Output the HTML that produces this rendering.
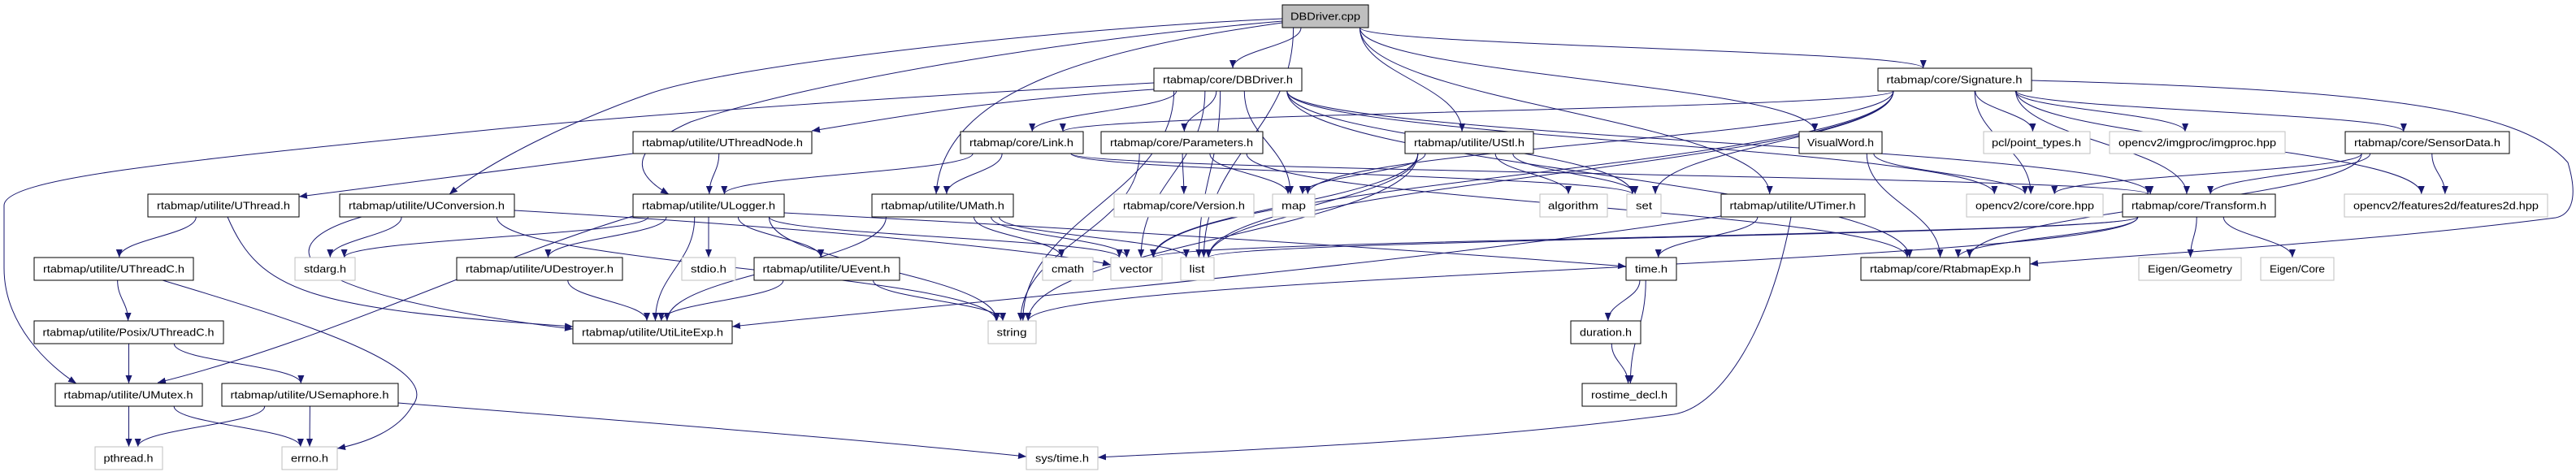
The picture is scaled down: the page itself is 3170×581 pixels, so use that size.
<!DOCTYPE html>
<html><head><meta charset="utf-8">
<style>
html,body{margin:0;padding:0;background:#fff;width:3170px;height:581px;overflow:hidden}
svg{display:block}
text{font-family:"Liberation Sans",sans-serif;font-size:12.5px;fill:#000}
</style></head>
<body>
<svg id="g" width="3170" height="581" xmlns="http://www.w3.org/2000/svg">
<defs><marker id="a" viewBox="0 0 10 10" refX="10" refY="5" markerWidth="10" markerHeight="10" markerUnits="userSpaceOnUse" orient="auto"><path d="M0,1 L10,5 L0,9 z" fill="#191970"/></marker></defs>
<g id="edges" fill="none" stroke="#191970" stroke-width="1"></g>
<g id="nodes">
<rect x="1578" y="6" width="106" height="28" fill="#bfbfbf" stroke="#000"/><text x="1631" y="24.5" text-anchor="middle" textLength="86" lengthAdjust="spacingAndGlyphs">DBDriver.cpp</text>
<rect x="1420" y="84" width="182" height="28" fill="#fff" stroke="#000"/><text x="1511" y="102.5" text-anchor="middle" textLength="160" lengthAdjust="spacingAndGlyphs">rtabmap/core/DBDriver.h</text>
<rect x="2311" y="84" width="189" height="28" fill="#fff" stroke="#000"/><text x="2405" y="102.5" text-anchor="middle" textLength="167" lengthAdjust="spacingAndGlyphs">rtabmap/core/Signature.h</text>

<rect x="779" y="162" width="220" height="27" fill="#fff" stroke="#000"/><text x="889" y="180" text-anchor="middle" textLength="198" lengthAdjust="spacingAndGlyphs">rtabmap/utilite/UThreadNode.h</text>
<rect x="1182" y="162" width="151" height="27" fill="#fff" stroke="#000"/><text x="1257" y="180" text-anchor="middle" textLength="128" lengthAdjust="spacingAndGlyphs">rtabmap/core/Link.h</text>
<rect x="1355" y="162" width="199" height="27" fill="#fff" stroke="#000"/><text x="1454" y="180" text-anchor="middle" textLength="176" lengthAdjust="spacingAndGlyphs">rtabmap/core/Parameters.h</text>
<rect x="1729" y="162" width="158" height="27" fill="#fff" stroke="#000"/><text x="1808" y="180" text-anchor="middle" textLength="136" lengthAdjust="spacingAndGlyphs">rtabmap/utilite/UStl.h</text>
<rect x="2214" y="162" width="102" height="27" fill="#fff" stroke="#000"/><text x="2265" y="180" text-anchor="middle" textLength="82" lengthAdjust="spacingAndGlyphs">VisualWord.h</text>
<rect x="2441" y="162" width="131" height="27" fill="#fff" stroke="#bfbfbf"/><text x="2506" y="180" text-anchor="middle" textLength="110" lengthAdjust="spacingAndGlyphs">pcl/point_types.h</text>
<rect x="2596" y="162" width="216" height="27" fill="#fff" stroke="#bfbfbf"/><text x="2704" y="180" text-anchor="middle" textLength="194" lengthAdjust="spacingAndGlyphs">opencv2/imgproc/imgproc.hpp</text>
<rect x="2886" y="162" width="202" height="27" fill="#fff" stroke="#000"/><text x="2987" y="180" text-anchor="middle" textLength="180" lengthAdjust="spacingAndGlyphs">rtabmap/core/SensorData.h</text>

<rect x="182" y="239" width="186" height="28" fill="#fff" stroke="#000"/><text x="275" y="257.5" text-anchor="middle" textLength="164" lengthAdjust="spacingAndGlyphs">rtabmap/utilite/UThread.h</text>
<rect x="418" y="239" width="215" height="28" fill="#fff" stroke="#000"/><text x="525" y="257.5" text-anchor="middle" textLength="192" lengthAdjust="spacingAndGlyphs">rtabmap/utilite/UConversion.h</text>
<rect x="779" y="239" width="186" height="28" fill="#fff" stroke="#000"/><text x="872" y="257.5" text-anchor="middle" textLength="164" lengthAdjust="spacingAndGlyphs">rtabmap/utilite/ULogger.h</text>
<rect x="1073" y="239" width="174" height="28" fill="#fff" stroke="#000"/><text x="1160" y="257.5" text-anchor="middle" textLength="152" lengthAdjust="spacingAndGlyphs">rtabmap/utilite/UMath.h</text>
<rect x="1371" y="239" width="172" height="28" fill="#fff" stroke="#bfbfbf"/><text x="1457" y="257.5" text-anchor="middle" textLength="150" lengthAdjust="spacingAndGlyphs">rtabmap/core/Version.h</text>
<rect x="1566" y="239" width="52" height="28" fill="#fff" stroke="#bfbfbf"/><text x="1592" y="257.5" text-anchor="middle" textLength="30" lengthAdjust="spacingAndGlyphs">map</text>
<rect x="1895" y="239" width="83" height="28" fill="#fff" stroke="#bfbfbf"/><text x="1936" y="257.5" text-anchor="middle" textLength="62" lengthAdjust="spacingAndGlyphs">algorithm</text>
<rect x="2002" y="239" width="42" height="28" fill="#fff" stroke="#bfbfbf"/><text x="2023" y="257.5" text-anchor="middle" textLength="20" lengthAdjust="spacingAndGlyphs">set</text>
<rect x="2118" y="239" width="177" height="28" fill="#fff" stroke="#000"/><text x="2206" y="257.5" text-anchor="middle" textLength="155" lengthAdjust="spacingAndGlyphs">rtabmap/utilite/UTimer.h</text>
<rect x="2420" y="239" width="168" height="28" fill="#fff" stroke="#bfbfbf"/><text x="2504" y="257.5" text-anchor="middle" textLength="146" lengthAdjust="spacingAndGlyphs">opencv2/core/core.hpp</text>
<rect x="2612" y="239" width="188" height="28" fill="#fff" stroke="#000"/><text x="2706" y="257.5" text-anchor="middle" textLength="166" lengthAdjust="spacingAndGlyphs">rtabmap/core/Transform.h</text>
<rect x="2885" y="239" width="250" height="28" fill="#fff" stroke="#bfbfbf"/><text x="3010" y="257.5" text-anchor="middle" textLength="228" lengthAdjust="spacingAndGlyphs">opencv2/features2d/features2d.hpp</text>

<rect x="42" y="317" width="196" height="28" fill="#fff" stroke="#000"/><text x="140" y="335.5" text-anchor="middle" textLength="174" lengthAdjust="spacingAndGlyphs">rtabmap/utilite/UThreadC.h</text>
<rect x="363" y="317" width="74" height="28" fill="#fff" stroke="#bfbfbf"/><text x="400" y="335.5" text-anchor="middle" textLength="52" lengthAdjust="spacingAndGlyphs">stdarg.h</text>
<rect x="562" y="317" width="204" height="28" fill="#fff" stroke="#000"/><text x="664" y="335.5" text-anchor="middle" textLength="182" lengthAdjust="spacingAndGlyphs">rtabmap/utilite/UDestroyer.h</text>
<rect x="839" y="317" width="66" height="28" fill="#fff" stroke="#bfbfbf"/><text x="872" y="335.5" text-anchor="middle" textLength="44" lengthAdjust="spacingAndGlyphs">stdio.h</text>
<rect x="928" y="317" width="179" height="28" fill="#fff" stroke="#000"/><text x="1017" y="335.5" text-anchor="middle" textLength="157" lengthAdjust="spacingAndGlyphs">rtabmap/utilite/UEvent.h</text>
<rect x="1283" y="317" width="62" height="28" fill="#fff" stroke="#bfbfbf"/><text x="1314" y="335.5" text-anchor="middle" textLength="40" lengthAdjust="spacingAndGlyphs">cmath</text>
<rect x="1367" y="317" width="63" height="28" fill="#fff" stroke="#bfbfbf"/><text x="1398" y="335.5" text-anchor="middle" textLength="41" lengthAdjust="spacingAndGlyphs">vector</text>
<rect x="1453" y="317" width="41" height="28" fill="#fff" stroke="#bfbfbf"/><text x="1473" y="335.5" text-anchor="middle" textLength="19" lengthAdjust="spacingAndGlyphs">list</text>
<rect x="2001" y="317" width="62" height="28" fill="#fff" stroke="#000"/><text x="2032" y="335.5" text-anchor="middle" textLength="40" lengthAdjust="spacingAndGlyphs">time.h</text>
<rect x="2290" y="317" width="208" height="28" fill="#fff" stroke="#000"/><text x="2394" y="335.5" text-anchor="middle" textLength="186" lengthAdjust="spacingAndGlyphs">rtabmap/core/RtabmapExp.h</text>
<rect x="2632" y="317" width="126" height="28" fill="#fff" stroke="#bfbfbf"/><text x="2695" y="335.5" text-anchor="middle" textLength="104" lengthAdjust="spacingAndGlyphs">Eigen/Geometry</text>
<rect x="2782" y="317" width="90" height="28" fill="#fff" stroke="#bfbfbf"/><text x="2827" y="335.5" text-anchor="middle" textLength="68" lengthAdjust="spacingAndGlyphs">Eigen/Core</text>

<rect x="42" y="395" width="233" height="28" fill="#fff" stroke="#000"/><text x="158" y="413.5" text-anchor="middle" textLength="211" lengthAdjust="spacingAndGlyphs">rtabmap/utilite/Posix/UThreadC.h</text>
<rect x="705" y="395" width="196" height="28" fill="#fff" stroke="#000"/><text x="803" y="413.5" text-anchor="middle" textLength="174" lengthAdjust="spacingAndGlyphs">rtabmap/utilite/UtiLiteExp.h</text>
<rect x="1216" y="395" width="59" height="28" fill="#fff" stroke="#bfbfbf"/><text x="1245" y="413.5" text-anchor="middle" textLength="37" lengthAdjust="spacingAndGlyphs">string</text>
<rect x="1933" y="395" width="86" height="28" fill="#fff" stroke="#000"/><text x="1976" y="413.5" text-anchor="middle" textLength="64" lengthAdjust="spacingAndGlyphs">duration.h</text>

<rect x="68" y="472" width="181" height="28" fill="#fff" stroke="#000"/><text x="158" y="490.5" text-anchor="middle" textLength="159" lengthAdjust="spacingAndGlyphs">rtabmap/utilite/UMutex.h</text>
<rect x="273" y="472" width="217" height="28" fill="#fff" stroke="#000"/><text x="381" y="490.5" text-anchor="middle" textLength="195" lengthAdjust="spacingAndGlyphs">rtabmap/utilite/USemaphore.h</text>
<rect x="1947" y="472" width="116" height="28" fill="#fff" stroke="#000"/><text x="2005" y="490.5" text-anchor="middle" textLength="94" lengthAdjust="spacingAndGlyphs">rostime_decl.h</text>

<rect x="117" y="550" width="83" height="28" fill="#fff" stroke="#bfbfbf"/><text x="158" y="568.5" text-anchor="middle" textLength="61" lengthAdjust="spacingAndGlyphs">pthread.h</text>
<rect x="347" y="550" width="68" height="28" fill="#fff" stroke="#bfbfbf"/><text x="381" y="568.5" text-anchor="middle" textLength="46" lengthAdjust="spacingAndGlyphs">errno.h</text>
<rect x="1263" y="550" width="88" height="28" fill="#fff" stroke="#bfbfbf"/><text x="1307" y="568.5" text-anchor="middle" textLength="66" lengthAdjust="spacingAndGlyphs">sys/time.h</text>
</g>
</svg>
<script>
var N={
cpp:[1578,6,106,28],dbh:[1420,84,182,28],sig:[2311,84,189,28],
utn:[779,162,220,27],link:[1182,162,151,27],par:[1355,162,199,27],ustl:[1729,162,158,27],vw:[2214,162,102,27],pcl:[2441,162,131,27],imp:[2596,162,216,27],sd:[2886,162,202,27],
uth:[182,239,186,28],uconv:[418,239,215,28],ulog:[779,239,186,28],umath:[1073,239,174,28],ver:[1371,239,172,28],map:[1566,239,52,28],alg:[1895,239,83,28],set:[2002,239,42,28],utim:[2118,239,177,28],core:[2420,239,168,28],tr:[2612,239,188,28],f2d:[2885,239,250,28],
uthc:[42,317,196,28],stdarg:[363,317,74,28],udes:[562,317,204,28],stdio:[839,317,66,28],uev:[928,317,179,28],cmath:[1283,317,62,28],vec:[1367,317,63,28],list:[1453,317,41,28],time:[2001,317,62,28],rexp:[2290,317,208,28],geo:[2632,317,126,28],ecore:[2782,317,90,28],
posix:[42,395,233,28],ulexp:[705,395,196,28],str:[1216,395,59,28],dur:[1933,395,86,28],
umutex:[68,472,181,28],usem:[273,472,217,28],ros:[1947,472,116,28],
pth:[117,550,83,28],errno:[347,550,68,28],systime:[1263,550,88,28]};
var O={
"dbh umutex":"M1420,102 C1100,120 800,140 600,160 C200,200 5,220 5,253 L5,330 C5,400 60,450 94,472",
"cpp uconv":"M1578,23 C1300,35 900,80 800,115 C700,150 600,200 553,239",
"cpp ulog":"M1578,26 C1300,50 1000,100 850,150 C760,190 790,220 823,239",
"cpp umath":"M1578,28 C1350,60 1160,110 1152,239",
"utn uth":"M779,189 L368,242",
"dbh utn":"M1420,110 C1200,125 1100,145 999,161",
"ulog umutex":"M779,266 C600,320 400,420 194,471",
"utim ulexp":"M2118,266 C1700,330 1100,380 901,402",
"utim systime":"M2204,267 C2180,400 2120,500 2060,510 C1800,545 1500,555 1351,563",
"usem systime":"M490,496 C800,520 1100,545 1263,562",
"uthc errno":"M200,345 C350,390 550,450 507,500 C490,530 450,545 415,552",
"tr ulexp":"M2612,266 C2300,290 1200,350 901,398",
"sig rexp":"M2500,99 C2900,110 3100,130 3160,200 C3175,250 3160,265 3145,268 C2900,300 2600,315 2498,325",
"ulog time":"M965,262 C1500,290 1900,320 2001,328",
"uconv vec":"M633,259 C1000,280 1300,310 1367,326",
"uth ulexp":"M280,267 C320,360 380,380 705,402",
"uconv ulexp":"M445,267 C330,300 340,360 705,405"
};
var E=[
"cpp dbh","cpp sig","cpp ustl","cpp utim","cpp vw","cpp uconv","cpp ulog","cpp umath","cpp list",
"dbh utn","dbh link","dbh par","dbh map","dbh set","dbh list","dbh vec","dbh umutex","dbh tr","dbh rexp","dbh core","dbh str",
"sig link","sig map","sig set","sig vec","sig list","sig pcl","sig imp","sig sd","sig core","sig tr","sig f2d","sig rexp",
"utn uth","utn ulog","link ulog","link umath","link tr","link set","par ver","par map","par str","par rexp",
"ustl map","ustl alg","ustl set","ustl vec","ustl list","ustl str","vw rexp","vw core",
"sd core","sd tr","sd f2d","sd rexp",
"uth uthc","uth ulexp","uconv stdarg","uconv ulexp","uconv str","uconv vec",
"ulog stdarg","ulog udes","ulog stdio","ulog uev","ulog ulexp","ulog str","ulog umutex","ulog time","ulog vec",
"umath cmath","umath vec","umath list","umath ulexp","utim time","utim ulexp","utim systime",
"tr geo","tr ecore","tr rexp","tr str","tr vec","tr list",
"uthc posix","uthc errno","udes ulexp","uev ulexp","uev str","time dur","time ros","dur ros",
"posix umutex","posix usem","posix pth","umutex pth","umutex errno","usem pth","usem errno","usem systime"];
var g=document.getElementById('edges'),s="";
E.forEach(function(e){var d=O[e];
if(!d){var p=e.split(' '),a=N[p[0]],b=N[p[1]];
var acx=a[0]+a[2]/2,bcx=b[0]+b[2]/2;
var off=Math.max(-a[2]/2.5,Math.min(a[2]/2.5,(bcx-acx)*0.25));
var sx=acx+off,sy=a[1]+a[3];
var toff=Math.max(-b[2]/3,Math.min(b[2]/3,(acx-bcx)*0.05));
var tx=bcx+toff,ty=b[1];
var dy=ty-sy;d="M"+sx+","+sy+" C"+sx+","+(sy+dy*0.45)+" "+tx+","+(ty-dy*0.45)+" "+tx+","+ty;}
s+='<path d="'+d+'" marker-end="url(#a)"/>';});
g.innerHTML=s;
</script>
</body></html>
